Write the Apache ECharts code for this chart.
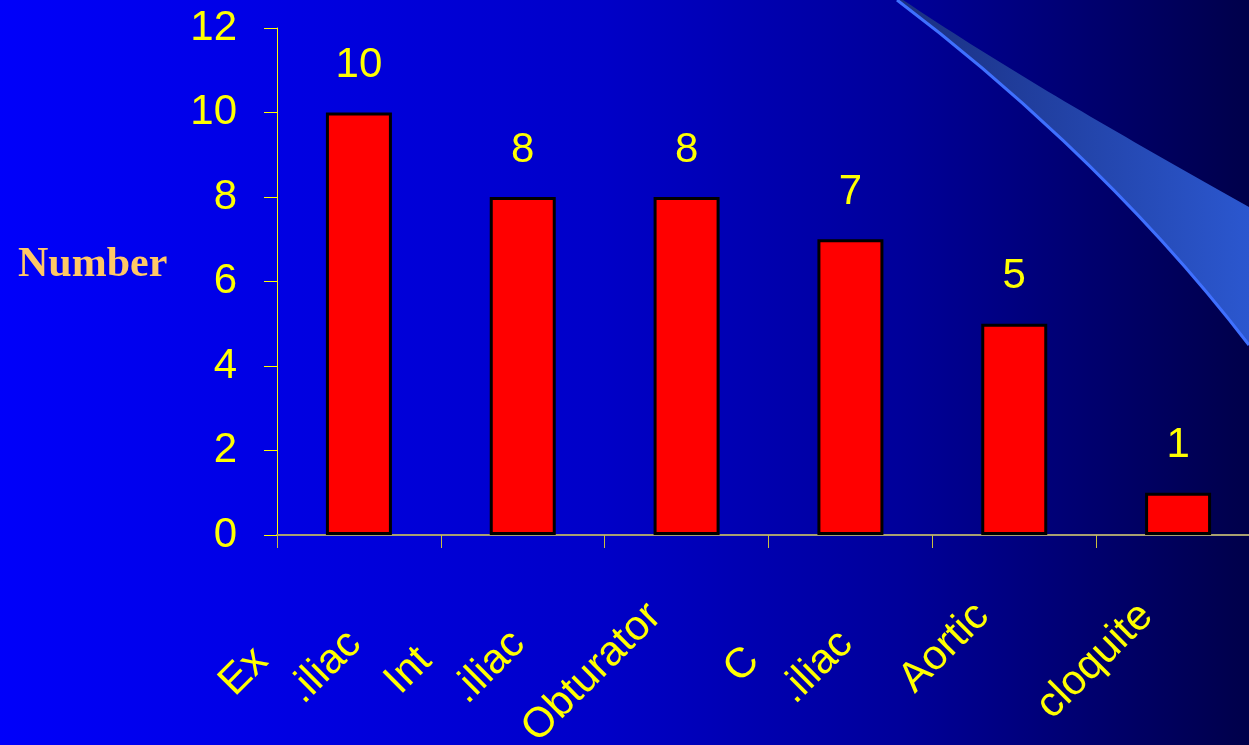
<!DOCTYPE html>
<html>
<head>
<meta charset="utf-8">
<style>
  html, body { margin: 0; padding: 0; }
  #chart {
    width: 1249px; height: 745px;
    background: linear-gradient(to right, #0000fa 0%, #0000e0 25%, #0000c8 48%, #00009a 72%, #00004a 100%);
  }
</style>
<script src="https://cdn.jsdelivr.net/npm/echarts@6/dist/echarts.min.js"></script>
</head>
<body>
<div id="chart"></div>
<script>
// Node groups and counts
const categories = ['Ex\n.iliac', 'Int\n.iliac', 'Obturator', 'C\n.iliac', 'Aortic', 'cloquite'];
const counts = [10, 8, 8, 7, 5, 1];
const yMin = 0, yMax = 12, yStep = 2;
const yTitle = 'Number';

const YELLOW = '#ffff00';
const SANS = '"Liberation Sans", Arial, sans-serif';

// two-line labels: a thin spacer line on top pushes both lines outward,
// and the first line sits further back along the rotated baseline
function formatCategory(name) {
  const parts = name.split('\n');
  if (parts.length === 1) return '{s|' + parts[0] + '}';
  return '{g| }\n{a|' + parts[0] + '}\n{s|' + parts[1] + '}';
}

// decorative swoosh in the top-right corner, outlined by two bezier edges
function bezierPoints(p0, p1, p2, p3, steps) {
  const pts = [];
  for (let i = 0; i <= steps; i++) {
    const t = i / steps, u = 1 - t;
    pts.push([
      u * u * u * p0[0] + 3 * u * u * t * p1[0] + 3 * u * t * t * p2[0] + t * t * t * p3[0],
      u * u * u * p0[1] + 3 * u * u * t * p1[1] + 3 * u * t * t * p2[1] + t * t * t * p3[1]
    ]);
  }
  return pts;
}
const swooshTop = bezierPoints([903, 0], [1015, 75], [1130, 140], [1249, 207], 40);
const swooshBottom = bezierPoints([1249, 345], [1130, 190], [990, 70], [897, 0], 60);
const swooshShape = swooshTop.concat(swooshBottom);

const chart = echarts.init(document.getElementById('chart'), null, { renderer: 'canvas' });

chart.setOption({
  backgroundColor: 'transparent',
  animation: false,
  grid: {
    left: 277, right: -11, top: 28, bottom: 210,
    containLabel: false,
    outerBoundsMode: 'none'
  },
  graphic: [
    {
      type: 'polygon', z: -10, silent: true,
      shape: { points: swooshShape },
      style: {
        fill: new echarts.graphic.LinearGradient(0, 0, 1, 0, [
          { offset: 0, color: '#1a2f80' },
          { offset: 1, color: '#2b57cf' }
        ]),
        stroke: null
      }
    },
    {
      type: 'bezierCurve', z: -9, silent: true,
      shape: { x1: 897, y1: 0, cpx1: 990, cpy1: 70, cpx2: 1130, cpy2: 190, x2: 1249, y2: 345 },
      style: { fill: null, stroke: '#3f70ff', lineWidth: 3 }
    },
    {
      type: 'text', left: 18, top: 244,
      style: {
        text: yTitle,
        fill: '#ffc866',
        font: 'bold 42px "Liberation Serif", "Times New Roman", serif'
      }
    }
  ],
  xAxis: {
    type: 'category',
    data: categories,
    axisLine: { show: true, lineStyle: { color: '#a8a070', width: 2 } },
    axisTick: { show: true, length: 13, lineStyle: { color: '#c8c040', width: 1 } },
    axisLabel: {
      interval: 0,
      rotate: 45,
      margin: 43,
      padding: [0, 45, 0, 0],
      color: YELLOW,
      fontFamily: SANS,
      fontSize: 42,
      lineHeight: 54,
      formatter: formatCategory,
      rich: {
        g: { color: YELLOW, fontFamily: SANS, fontSize: 10, lineHeight: 24 },
        a: { color: YELLOW, fontFamily: SANS, fontSize: 42, lineHeight: 54, padding: [0, 78, 0, 0] },
        s: { color: YELLOW, fontFamily: SANS, fontSize: 42, lineHeight: 54 }
      }
    },
    splitLine: { show: false }
  },
  yAxis: {
    type: 'value',
    min: yMin, max: yMax, interval: yStep,
    axisLine: { show: true, lineStyle: { color: YELLOW, width: 1 } },
    axisTick: { show: true, length: 13, lineStyle: { color: YELLOW, width: 1 } },
    axisLabel: { color: YELLOW, fontFamily: SANS, fontSize: 42, margin: 40 },
    splitLine: { show: false }
  },
  series: [{
    type: 'bar',
    data: counts,
    barWidth: 66,
    itemStyle: { color: '#ff0000', borderColor: '#000000', borderWidth: 3 },
    label: {
      show: true,
      position: 'top',
      distance: 26,
      color: YELLOW,
      fontFamily: SANS,
      fontSize: 42
    }
  }]
});
</script>
</body>
</html>
